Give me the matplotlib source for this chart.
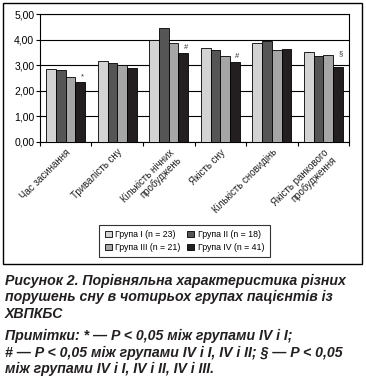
import numpy as np
import matplotlib.pyplot as plt
from matplotlib.patches import Rectangle

plt.rcParams['font.family'] = ['Liberation Sans', 'DejaVu Sans']

categories = ['Час засинання', 'Тривалість сну', 'Кількість нічних\nпробуджень',
              'Якість сну', 'Кількість сновидінь', 'Якість ранкового\nпробудження']
groups = ['Група I (n = 23)', 'Група II (n = 18)', 'Група III (n = 21)', 'Група IV (n = 41)']
group1 = [2.87, 3.18, 4.00, 3.69, 3.86, 3.54]
group2 = [2.83, 3.08, 4.45, 3.61, 3.94, 3.38]
group3 = [2.55, 3.02, 3.89, 3.38, 3.61, 3.42]
group4 = [2.33, 2.88, 3.47, 3.12, 3.66, 2.92]
marks = ['*', '', '#', '#', '', '§']

caption_lines = ['Рисунок 2. Порівняльна характеристика різних',
                 'порушень сну в чотирьох групах пацієнтів із',
                 'ХВПКБС']
note_lines = ['Примітки: * — P < 0,05 між групами IV і I;',
              '# — P < 0,05 між групами IV і I, IV і II; § — P < 0,05',
              'між групами IV і I, IV і II, IV і III.']

colors = ['#d3d3d3', '#555555', '#a6a6a6', '#231f20']
values = [group1, group2, group3, group4]

fig = plt.figure(figsize=(3.66, 3.80), dpi=100)
ax = fig.add_axes([0.109, 0.627, 0.845, 0.335])

x = np.arange(len(categories))
w = 0.188
for i, (vals, c, lab) in enumerate(zip(values, colors, groups)):
    ax.bar(x + (i - 1.5) * w, vals, w, color=c, edgecolor='black', linewidth=0.6, label=lab, zorder=3)

for xi, v, m in zip(x, group4, marks):
    if m:
        off = 0.55 if m == '§' else 0.22
        ax.text(xi + 1.5 * w + 0.05, v + off, m, ha='center', va='center', fontsize=5.5, color='#333333')

ax.set_xlim(-0.5, len(categories) - 0.5)
ax.set_ylim(0, 5)
ax.set_yticks(np.arange(0, 5.01, 1))
ax.set_yticklabels(['{:.2f}'.format(t).replace('.', ',') for t in np.arange(0, 5.01, 1)], fontsize=7.5)
ax.grid(axis='y', color='black', linewidth=0.8, zorder=0)
ax.set_xticks(np.arange(len(categories) + 1) - 0.5, minor=False)
ax.set_xticklabels([])
ax.set_xticks(x, minor=True)
ax.set_xticklabels(categories, minor=True, rotation=45, ha='right', rotation_mode='anchor', fontsize=7.0,
                   color='#222222', linespacing=1.0)
ax.tick_params(axis='x', which='minor', length=0, pad=4)
ax.tick_params(axis='x', which='major', length=3, width=0.8, direction='out')
ax.tick_params(axis='y', length=3, width=0.8, pad=1)
for s in ax.spines.values():
    s.set_linewidth(0.8)

h, l = ax.get_legend_handles_labels()
order = [0, 2, 1, 3]
leg = fig.legend([h[k] for k in order], [l[k] for k in order], ncol=2, loc='center',
                 bbox_to_anchor=(0.504, 0.366), fontsize=6.3, frameon=True, fancybox=False,
                 edgecolor='black', handlelength=0.8, handleheight=0.8, handletextpad=0.4,
                 columnspacing=0.8, borderpad=0.6, labelspacing=0.45)
leg.get_frame().set_linewidth(0.8)

fig.patches.append(Rectangle((3 / 366, 1 - 264 / 380), 359 / 366, 261 / 380, transform=fig.transFigure,
                             fill=False, edgecolor='black', linewidth=1.0))

# caption and notes, one text per line so the baselines sit where they should
for k, line in enumerate(caption_lines):
    fig.text(5 / 366, 1 - (285 + 16.3 * k) / 380, line, ha='left', va='baseline', fontsize=10.2,
             fontweight='bold', fontstyle='italic', color='#231f20')
for k, line in enumerate(note_lines):
    fig.text(5 / 366, 1 - (340 + 16.5 * k) / 380, line, ha='left', va='baseline', fontsize=10.2,
             fontweight='bold', fontstyle='italic', color='#231f20')

fig.savefig('out.png', dpi=100)
